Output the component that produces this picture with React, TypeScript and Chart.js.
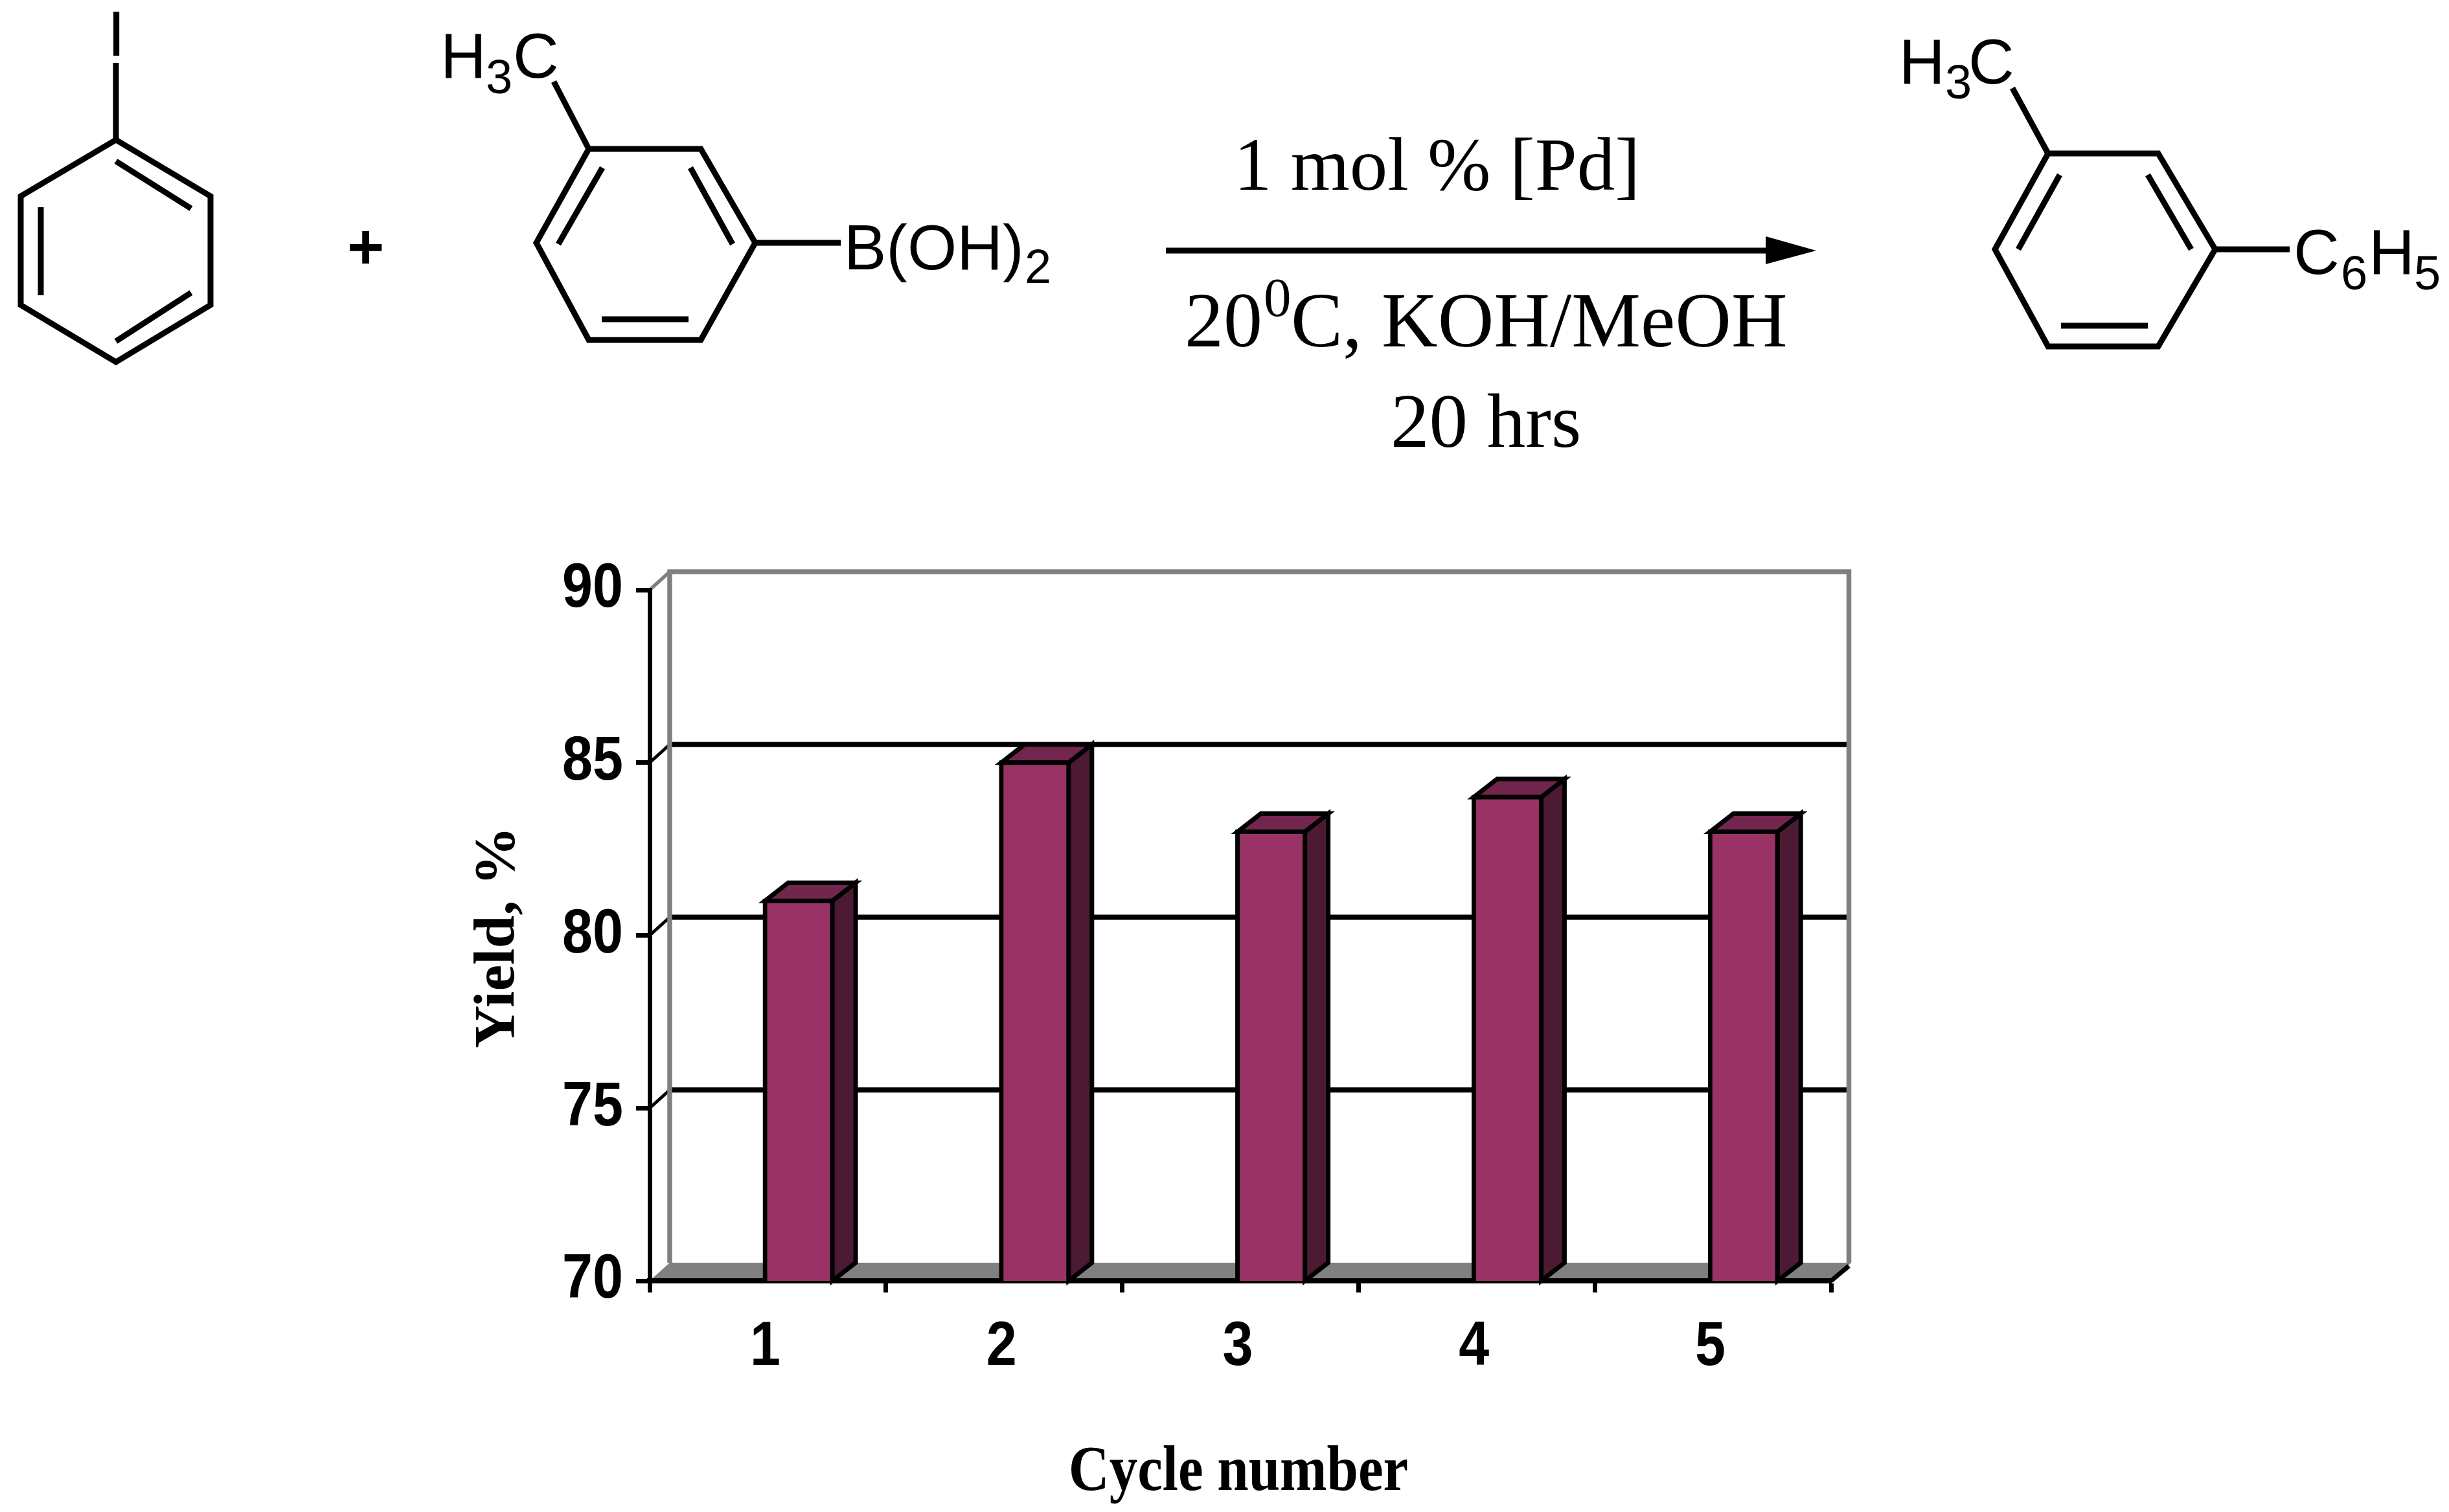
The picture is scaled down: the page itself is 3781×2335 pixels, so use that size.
import React, { useEffect, useRef } from "react";
import { Chart, registerables } from "chart.js";

Chart.register(...registerables);

const categories = ["1", "2", "3", "4", "5"];
const yields = [81, 85, 83, 84, 83];
const yMin = 70;
const yMax = 90;
const yStep = 5;
const xTitle = "Cycle number";
const yTitle = "Yield, %";

const W = 3781;
const H = 2335;
const BACK_X = 31;
const BACK_Y = -28;
const BAR_SHIFT = 47.6;
const BAR_DX = 36;
const BAR_DY = -28;
const FRONT = "#993366";
const SIDE = "#4C1A33";
const TOP = "#73264D";
const GREY = "#808080";

type Pt = [number, number];

function poly(ctx: CanvasRenderingContext2D, pts: Pt[], close = true) {
  ctx.beginPath();
  pts.forEach((p, i) => (i ? ctx.lineTo(p[0], p[1]) : ctx.moveTo(p[0], p[1])));
  if (close) ctx.closePath();
}

const backdrop = {
  id: "backdrop",
  beforeDraw(chart: any) {
    const { ctx, scales } = chart;
    const { left, right, bottom } = chart.chartArea;
    const y = scales.y;
    ctx.save();
    ctx.fillStyle = "#FFFFFF";
    ctx.fillRect(0, 0, W, H);
    const bl = left + BACK_X;
    const br = right + BACK_X - 3.5;
    const top = y.getPixelForValue(yMax) + BACK_Y;
    const floorY = bottom + BACK_Y;
    // floor
    ctx.fillStyle = GREY;
    poly(ctx, [[left, bottom], [bl, floorY], [br + 3.5, floorY], [right, bottom]]);
    ctx.fill();
    // horizontal lines on the back wall
    ctx.strokeStyle = "#000000";
    y.ticks.forEach((t: any) => {
      if (t.value === yMin || t.value === yMax) return;
      const py = y.getPixelForValue(t.value);
      ctx.lineWidth = 8;
      poly(ctx, [[bl, py + BACK_Y], [br + 3.5, py + BACK_Y]], false);
      ctx.stroke();
      ctx.lineWidth = 5;
      poly(ctx, [[left, py], [bl, py + BACK_Y]], false);
      ctx.stroke();
    });
    // walls
    ctx.strokeStyle = GREY;
    ctx.lineWidth = 7.5;
    ctx.lineJoin = "miter";
    poly(ctx, [[bl, floorY], [bl, top], [br, top], [br, floorY]], false);
    ctx.stroke();
    ctx.lineWidth = 5.5;
    poly(ctx, [[left, y.getPixelForValue(yMax)], [bl, top]], false);
    ctx.stroke();
    // front floor edge at right
    ctx.strokeStyle = "#000000";
    ctx.lineWidth = 7;
    poly(ctx, [[right, bottom], [br, floorY + 5]], false);
    ctx.stroke();
    ctx.restore();
  },
};

const bars3d = {
  id: "bars3d",
  afterDatasetsUpdate(chart: any) {
    chart.getDatasetMeta(0).data.forEach((b: any) => {
      b.x += BAR_SHIFT;
    });
  },
  beforeDatasetsDraw(chart: any) {
    const { ctx } = chart;
    const base = chart.chartArea.bottom;
    ctx.save();
    ctx.strokeStyle = "#000000";
    ctx.lineWidth = 7;
    ctx.lineJoin = "miter";
    chart.getDatasetMeta(0).data.forEach((b: any) => {
      const l = b.x - b.width / 2;
      const r = b.x + b.width / 2;
      ctx.fillStyle = SIDE;
      poly(ctx, [[r, b.y], [r + BAR_DX, b.y + BAR_DY], [r + BAR_DX, base + BAR_DY], [r, base]]);
      ctx.fill();
      ctx.stroke();
      ctx.fillStyle = TOP;
      poly(ctx, [[l, b.y], [l + BAR_DX, b.y + BAR_DY], [r + BAR_DX, b.y + BAR_DY], [r, b.y]]);
      ctx.fill();
      ctx.stroke();
    });
    ctx.restore();
  },
};

const SANS = '"Liberation Sans", Arial, sans-serif';
const SERIF = '"Liberation Serif", "Times New Roman", serif';

function txt(ctx: CanvasRenderingContext2D, s: string, x: number, y: number, font: string) {
  ctx.font = font;
  ctx.fillText(s, x, y);
}

function ring(ctx: CanvasRenderingContext2D, outer: Pt[], inner: [Pt, Pt][]) {
  poly(ctx, outer);
  ctx.stroke();
  inner.forEach((seg) => {
    poly(ctx, seg, false);
    ctx.stroke();
  });
}

const scheme = {
  id: "scheme",
  afterDraw(chart: any) {
    const { ctx } = chart;
    ctx.save();
    ctx.fillStyle = "#000000";
    ctx.strokeStyle = "#000000";
    ctx.lineWidth = 9;
    ctx.lineJoin = "miter";
    ctx.textAlign = "left";
    ctx.textBaseline = "alphabetic";

    const sans = `98px ${SANS}`;
    const sub = `74px ${SANS}`;

    // iodobenzene
    ring(
      ctx,
      [[179, 216], [325, 303], [325, 471], [179, 559], [32, 471], [32, 303]],
      [
        [[63, 320], [63, 456]],
        [[179, 249], [295, 322]],
        [[295, 452], [179, 527]],
      ],
    );
    poly(ctx, [[179, 97], [179, 216]], false);
    ctx.stroke();
    txt(ctx, "I", 166, 86, sans);
    txt(ctx, "+", 536, 415, `bold 98px ${SANS}`);

    // m-tolylboronic acid
    ring(
      ctx,
      [[909, 230], [1082, 230], [1166, 375], [1082, 525], [909, 525], [828, 375]],
      [
        [[930, 259], [862, 377]],
        [[1066, 259], [1131, 377]],
        [[929, 493], [1063, 493]],
      ],
    );
    poly(ctx, [[909, 230], [855, 126]], false);
    ctx.stroke();
    poly(ctx, [[1166, 375], [1298, 375]], false);
    ctx.stroke();
    txt(ctx, "H", 680, 120, sans);
    txt(ctx, "3", 750, 144, sub);
    txt(ctx, "C", 792, 120, sans);
    txt(ctx, "B(OH)", 1303, 416, sans);
    txt(ctx, "2", 1582, 437, sub);

    // arrow
    poly(ctx, [[1800, 387], [2740, 387]], false);
    ctx.stroke();
    poly(ctx, [[2804, 387], [2726, 365], [2726, 408]]);
    ctx.fill();

    // conditions
    txt(ctx, "1 mol % [Pd]", 1905, 293, `117px ${SERIF}`);
    txt(ctx, "20", 1829, 535, `120px ${SERIF}`);
    txt(ctx, "0", 1951, 488, `85px ${SERIF}`);
    txt(ctx, "C, KOH/MeOH", 1993, 535, `120px ${SERIF}`);
    txt(ctx, "20 hrs", 2147, 690, `119px ${SERIF}`);

    // product
    ring(
      ctx,
      [[3162, 237], [3332, 237], [3420, 385], [3332, 535], [3162, 535], [3080, 385]],
      [
        [[3180, 270], [3116, 385]],
        [[3316, 270], [3383, 385]],
        [[3182, 503], [3316, 503]],
      ],
    );
    poly(ctx, [[3162, 237], [3107, 136]], false);
    ctx.stroke();
    poly(ctx, [[3420, 385], [3535, 385]], false);
    ctx.stroke();
    txt(ctx, "H", 2932, 129, sans);
    txt(ctx, "3", 3003, 152, sub);
    txt(ctx, "C", 3039, 129, sans);
    txt(ctx, "C", 3541, 423, sans);
    txt(ctx, "6", 3614, 447, sub);
    txt(ctx, "H", 3657, 423, sans);
    txt(ctx, "5", 3727, 447, sub);
    ctx.restore();
  },
};

// The reference's text is condensed: glyphs are narrowed around their own anchor,
// and `shift` moves them along their own baseline.
function condense(scale: any, method: string, factor: number, shift = 0) {
  const orig = scale[method];
  scale[method] = function (...args: any[]) {
    const ctx = this.ctx;
    const fillText = ctx.fillText;
    ctx.fillText = function (s: string, x: number, y: number) {
      ctx.save();
      ctx.translate(shift, 0);
      ctx.scale(factor, 1);
      fillText.call(ctx, s, x / factor, y);
      ctx.restore();
    };
    orig.apply(this, args);
    delete ctx.fillText;
  };
}

const condensed = {
  id: "condensed",
  beforeDraw(chart: any) {
    const { x, y } = chart.scales;
    if (chart.$condensed === x) return;
    chart.$condensed = x;
    condense(x, "drawLabels", 0.88);
    condense(y, "drawLabels", 0.88);
    condense(x, "drawTitle", 0.87, -3);
    condense(y, "drawTitle", 1.04, -3);
  },
};

export default function App() {
  const ref = useRef<HTMLCanvasElement | null>(null);
  useEffect(() => {
    document.body.style.margin = "0";
    const chart = new Chart(ref.current as HTMLCanvasElement, {
      type: "bar",
      data: {
        labels: categories,
        datasets: [
          {
            data: yields,
            backgroundColor: FRONT,
            borderColor: "#000000",
            borderWidth: 7,
            borderSkipped: false,
            inflateAmount: 3.5,
            barThickness: 104,
          } as any,
        ],
      },
      options: {
        responsive: false,
        animation: false,
        devicePixelRatio: 1,
        layout: { padding: { left: 717, right: 954, top: 911, bottom: 0 } },
        plugins: { legend: { display: false }, title: { display: false }, tooltip: { enabled: false } },
        scales: {
          x: {
            z: 1,
            offset: true,
            afterFit: (s: any) => {
              s.height = 357;
            },
            grid: {
              offset: true,
              drawOnChartArea: false,
              drawTicks: true,
              tickLength: 18,
              tickWidth: 7,
              tickColor: "#000000",
            },
            border: { display: true, color: "#000000", width: 8 },
            ticks: {
              color: "#000000",
              padding: 28,
              labelOffset: -4,
              maxRotation: 0,
              font: { family: SANS, weight: "bold", size: 96 },
            },
            title: {
              display: true,
              text: xTitle,
              color: "#000000",
              padding: 0,
              font: { family: SERIF, weight: "bold", size: 100 },
            },
          },
          y: {
            z: 1,
            min: yMin,
            max: yMax,
            afterFit: (s: any) => {
              s.width = 286;
            },
            grid: {
              drawOnChartArea: false,
              drawTicks: true,
              tickLength: 21,
              tickWidth: 7,
              tickColor: "#000000",
            },
            border: { display: true, color: "#000000", width: 7 },
            ticks: {
              stepSize: yStep,
              color: "#000000",
              padding: 20,
              font: { family: SANS, weight: "bold", size: 96 },
            },
            title: {
              display: true,
              text: yTitle,
              color: "#000000",
              padding: 0,
              font: { family: SERIF, weight: "bold", size: 88 },
            },
          },
        },
      },
      plugins: [backdrop, condensed, bars3d, scheme],
    } as any);
    return () => chart.destroy();
  }, []);
  return (
    <canvas
      ref={ref}
      width={W}
      height={H}
      style={{ display: "block", position: "absolute", left: 0, top: 0, width: W, height: H }}
    />
  );
}
